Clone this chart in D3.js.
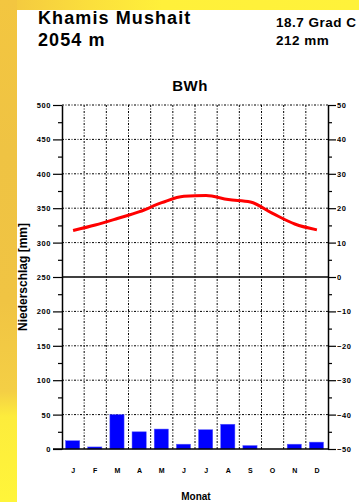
<!DOCTYPE html>
<html><head><meta charset="utf-8">
<script src="https://cdn.jsdelivr.net/npm/d3@7"></script>
<style>html,body{margin:0;padding:0;background:#fff;}svg{display:block;}</style>
</head><body>
<script>
const months = ["J","F","M","A","M","J","J","A","S","O","N","D"];
const precip = [12,3,50,25,29,7,28,36,5,0,7,10];
const temp = [13.5,15.1,17.0,19.0,21.6,23.5,23.7,22.5,21.8,18.5,15.4,13.7];
const precipTicks = [0,50,100,150,200,250,300,350,400,450,500];
const tempTicks = [-50,-40,-30,-20,-10,0,10,20,30,40,50];
const station = "Khamis Mushait";
const elevation = "2054 m";
const meanTemp = "18.7 Grad C";
const sumPrecip = "212 mm";
const climate = "BWh";

const W = 359, H = 502;
const L = 62, R = 328, T = 105, B = 449;
const svg = d3.select("body").append("svg").attr("width", W).attr("height", H);
const defs = svg.append("defs");
const gl = defs.append("linearGradient").attr("id","gl").attr("x1",0).attr("y1",0).attr("x2",0).attr("y2",1);
[[0,"#f3c640"],[0.3,"#efc343"],[0.6,"#f0c443"],[0.78,"#f4cf45"],[0.83,"#fdec3c"],[1,"#fff53a"]].forEach(s=>gl.append("stop").attr("offset",s[0]).attr("stop-color",s[1]));
const gt = defs.append("linearGradient").attr("id","gt").attr("x1",0).attr("y1",0).attr("x2",1).attr("y2",0);
[[0,"#f3c640"],[0.25,"#fbdf3c"],[0.45,"#fff03a"],[1,"#fff23a"]].forEach(s=>gt.append("stop").attr("offset",s[0]).attr("stop-color",s[1]));
svg.append("rect").attr("x",0).attr("y",0).attr("width",W).attr("height",10).attr("fill","url(#gt)");
svg.append("rect").attr("x",0).attr("y",0).attr("width",17).attr("height",H).attr("fill","url(#gl)");
svg.append("rect").attr("x",17).attr("y",10).attr("width",W-17).attr("height",H-10).attr("fill","#fff");

const x = d3.scaleBand().domain(d3.range(12)).range([L,R]).padding(0);
const yP = d3.scaleLinear().domain([0,500]).range([B,T]);
const yT = d3.scaleLinear().domain([-50,50]).range([B,T]);

const font = "'Liberation Sans', Arial, Helvetica, sans-serif";

// grid
const dash = "2,1.5,1,1.5";
svg.append("g").selectAll("line").data(precipTicks.filter(v=>v>0 && v!==250)).join("line")
  .attr("x1",L).attr("x2",R).attr("y1",d=>yP(d)).attr("y2",d=>yP(d))
  .attr("stroke","#000").attr("stroke-width",1).attr("stroke-dasharray",dash);
svg.append("g").selectAll("line").data(d3.range(1,12)).join("line")
  .attr("x1",d=>x(d)).attr("x2",d=>x(d)).attr("y1",T).attr("y2",B)
  .attr("stroke","#000").attr("stroke-width",1).attr("stroke-dasharray",dash);
svg.append("line").attr("x1",L).attr("x2",R).attr("y1",yT(0)).attr("y2",yT(0)).attr("stroke","#000").attr("stroke-width",1.5);

// bars
const bw = x.bandwidth();
svg.append("g").selectAll("rect").data(precip).join("rect")
  .attr("x",(d,i)=>x(i)+bw*0.16).attr("width",bw*0.64)
  .attr("y",d=>yP(d)).attr("height",d=>B-yP(d))
  .attr("fill","#0000ff").attr("stroke","#5a5aff").attr("stroke-width",0.5);

// temp line
svg.append("path").datum(temp)
  .attr("d", d3.line().x((d,i)=>x(i)+bw/2).y(d=>yT(d)).curve(d3.curveMonotoneX))
  .attr("fill","none").attr("stroke","#ff0000").attr("stroke-width",3).attr("stroke-linejoin","round");

// axes
const minorP = d3.range(25,500,50);
const gLeft = svg.append("g").attr("transform",`translate(${L},0)`)
  .call(d3.axisLeft(yP).tickValues(precipTicks).tickSize(9).tickSizeOuter(0).tickPadding(2));
gLeft.select(".domain").attr("stroke-width",1.5);
gLeft.selectAll(".tick line").attr("stroke-width",1.2);
gLeft.selectAll("text").attr("font-family",font).attr("font-size",7.5).attr("font-weight","bold").attr("letter-spacing",0.6).attr("fill","#000");
svg.append("g").attr("transform",`translate(${L},0)`).call(d3.axisLeft(yP).tickValues(minorP).tickSize(4).tickFormat(""))
  .call(g=>g.select(".domain").remove()).selectAll(".tick line").attr("stroke-width",1.2);

const gRight = svg.append("g").attr("transform",`translate(${R},0)`)
  .call(d3.axisRight(yT).tickValues(tempTicks).tickSize(8).tickSizeOuter(0).tickPadding(1));
gRight.select(".domain").attr("stroke-width",1.5);
gRight.selectAll(".tick line").attr("stroke-width",1.2);
gRight.selectAll("text").attr("font-family",font).attr("font-size",7.5).attr("font-weight","bold").attr("letter-spacing",0.6).attr("fill","#000");
svg.append("g").attr("transform",`translate(${R},0)`).call(d3.axisRight(yT).tickValues(d3.range(-45,50,10)).tickSize(4).tickFormat(""))
  .call(g=>g.select(".domain").remove()).selectAll(".tick line").attr("stroke-width",1.2);

svg.append("line").attr("x1",L-9).attr("x2",R).attr("y1",B).attr("y2",B).attr("stroke","#000").attr("stroke-width",1.5);

// month labels
svg.append("g").selectAll("text").data(months).join("text")
  .attr("x",(d,i)=>x(i)+bw/2).attr("y",473).attr("text-anchor","middle")
  .attr("font-family",font).attr("font-size",7).attr("font-weight","bold").text(d=>d);

// titles
const txt = (s,xx,yy,size,anchor="start",ls=0) => svg.append("text").attr("x",xx).attr("y",yy)
  .attr("font-family",font).attr("font-weight","bold").attr("font-size",size).attr("letter-spacing",ls).attr("text-anchor",anchor).text(s);
txt(station,38,24,18,"start",1.1);
txt(elevation,38,46,18,"start",1.1);
txt(meanTemp,276,27,13.5,"start",0.5);
txt(sumPrecip,276,45,13.5,"start",0.5);
txt(climate,190,91,15,"middle",0.5);
txt("Monat",196,500,10,"middle");
svg.append("text").attr("transform",`translate(27,${(T+B)/2}) rotate(-90)`).attr("text-anchor","middle")
  .attr("font-family",font).attr("font-weight","bold").attr("font-size",12).text("Niederschlag [mm]");
svg.append("text").attr("transform",`translate(369,${(T+B)/2}) rotate(-90)`).attr("text-anchor","middle")
  .attr("font-family",font).attr("font-weight","bold").attr("font-size",12).text("Temperatur [Grad C]");
</script>
</body></html>
